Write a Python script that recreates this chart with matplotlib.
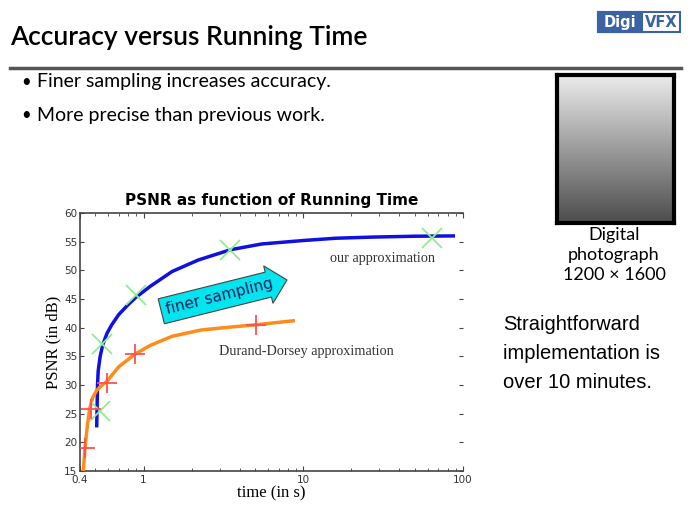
import numpy as np
import matplotlib.pyplot as plt
from matplotlib.patches import Rectangle

# curve data
our_t = [0.509, 0.512, 0.515, 0.52, 0.535, 0.555, 0.59, 0.632, 0.7, 0.8, 0.887, 1.1, 1.51, 2.2, 3.51, 5.5, 10, 16, 27.3, 50, 87]
our_psnr = [22.9, 26.5, 30.0, 32.5, 35.0, 37.0, 39.0, 40.5, 42.3, 44.0, 45.2, 47.2, 49.8, 51.8, 53.6, 54.6, 55.2, 55.6, 55.8, 55.95, 56.0]
our_mark_t = [0.534, 0.552, 0.895, 3.47, 64.4]
our_mark_psnr = [25.4, 37.1, 45.7, 53.6, 55.6]

dd_t = [0.42, 0.43, 0.445, 0.46, 0.48, 0.51, 0.55, 0.588, 0.7, 0.886, 1.1, 1.51, 2.3, 3.5, 5.04, 8.65]
dd_psnr = [15.2, 19.0, 23.0, 25.9, 27.8, 29.1, 30.0, 30.6, 33.2, 35.4, 36.9, 38.5, 39.6, 40.1, 40.5, 41.2]
dd_mark_t = [0.43, 0.47, 0.588, 0.886, 5.04]
dd_mark_psnr = [19.0, 25.9, 30.4, 35.4, 40.4]

yticks = [15, 20, 25, 30, 35, 40, 45, 50, 55, 60]
bullets = ["Finer sampling increases accuracy.", "More precise than previous work."]

W, H = 691, 515
fig = plt.figure(figsize=(W / 100, H / 100), dpi=100)

def px(x, y):
    return x / W, 1 - y / H

# slide header
fig.text(*px(10, 38), "Accuracy versus Running Time", fontsize=19, fontweight='semibold',
         family='Lato', va='center', ha='left')
fig.add_artist(plt.Line2D([10 / W, 681 / W], [1 - 68 / H] * 2, color='#555555', lw=2.5))

# DigiVFX logo
fig.add_artist(Rectangle(px(598, 32), 82 / W, 20 / H, fc='white', ec='#3b62a3', lw=1.5))
fig.add_artist(Rectangle(px(598, 32), 44 / W, 20 / H, fc='#3b62a3', ec='#3b62a3', lw=1.5))
fig.text(*px(620, 22.5), "Digi", color='white', fontsize=10.5, fontweight='bold', ha='center', va='center')
fig.text(*px(661, 22.5), "VFX", color='#3b62a3', fontsize=10.5, fontweight='bold', ha='center', va='center')

# bullets
for i, b in enumerate(bullets):
    fig.text(*px(21, 82 + 33 * i), "•", fontsize=12, va='center', ha='left', family='Lato')
    fig.text(*px(37, 82 + 33 * i), b, fontsize=14, va='center', ha='left', family='Lato')

# photo placeholder
ph = fig.add_axes([557 / W, 1 - 223 / H, 117 / W, 148 / H])
grad = np.linspace(0.92, 0.3, 100)[:, None] * np.ones((1, 70))
ph.imshow(grad, cmap='gray', vmin=0, vmax=1, aspect='auto')
ph.set_xticks([])
ph.set_yticks([])
for s in ph.spines.values():
    s.set_linewidth(3)
    s.set_color('black')

for i, line in enumerate(["Digital", "photograph", "1200 × 1600"]):
    fig.text(*px(614, 235 + 20 * i), line, fontsize=13, family='Lato', ha='center', va='center')

for i, line in enumerate(["Straightforward", "implementation is", "over 10 minutes."]):
    fig.text(*px(503, 325 + 28.5 * i), line, fontsize=14.5, family='Liberation Sans',
             ha='left', va='center')

# chart
ax = fig.add_axes([80 / W, 1 - 471 / H, 383 / W, 258 / H])
ax.set_xscale('log')
ax.set_xlim(0.4, 100)
ax.set_ylim(15, 60)

ax.plot(our_t, our_psnr, color='#1010e0', lw=2.5, zorder=3)
ax.plot(dd_t, dd_psnr, color='#ff8c1a', lw=2.5, zorder=3)
ax.plot(our_mark_t, our_mark_psnr, 'x', color='#90ee90', ms=14, mew=1.3, zorder=4)
ax.plot(dd_mark_t, dd_mark_psnr, '+', color='#ff5050', ms=15, mew=1.3, zorder=4)

ax.text(31.5, 52.1, "our approximation", family='Liberation Serif', fontsize=10.3,
        ha='center', va='center', color='#333333')
ax.text(10.4, 35.8, "Durand-Dorsey approximation", family='Liberation Serif', fontsize=10.3,
        ha='center', va='center', color='#333333')
ax.text(3.0, 45.4, "finer sampling", fontsize=11, rotation=14, ha='center', va='center',
        color='#202060', bbox=dict(boxstyle='rarrow,pad=0.35', fc='#00e5ee', ec='#444444', lw=0.8))

ax.set_title("PSNR as function of Running Time", fontsize=11, fontweight='bold', pad=6)
ax.set_xlabel("time (in s)", family='Liberation Serif', fontsize=12, labelpad=0)
ax.set_ylabel("PSNR (in dB)", family='Liberation Serif', fontsize=12, labelpad=2)

ax.set_xticks([0.4, 1, 10, 100])
ax.set_xticklabels(["0.4", "1", "10", "100"])
ax.set_yticks(yticks)
ax.tick_params(axis='both', which='both', direction='in', labelsize=7.5, colors='#444444',
               labelcolor='#333333', top=True, right=True)
ax.tick_params(axis='y', which='major', length=3, pad=2)
ax.tick_params(axis='x', which='both', pad=3)
ax.tick_params(axis='x', which='minor', length=2.5)
ax.spines['right'].set_visible(False)
for s in ['left', 'bottom', 'top']:
    ax.spines[s].set_color('#444444')
    ax.spines[s].set_linewidth(1.2)

fig.savefig("out.png", dpi=100)
